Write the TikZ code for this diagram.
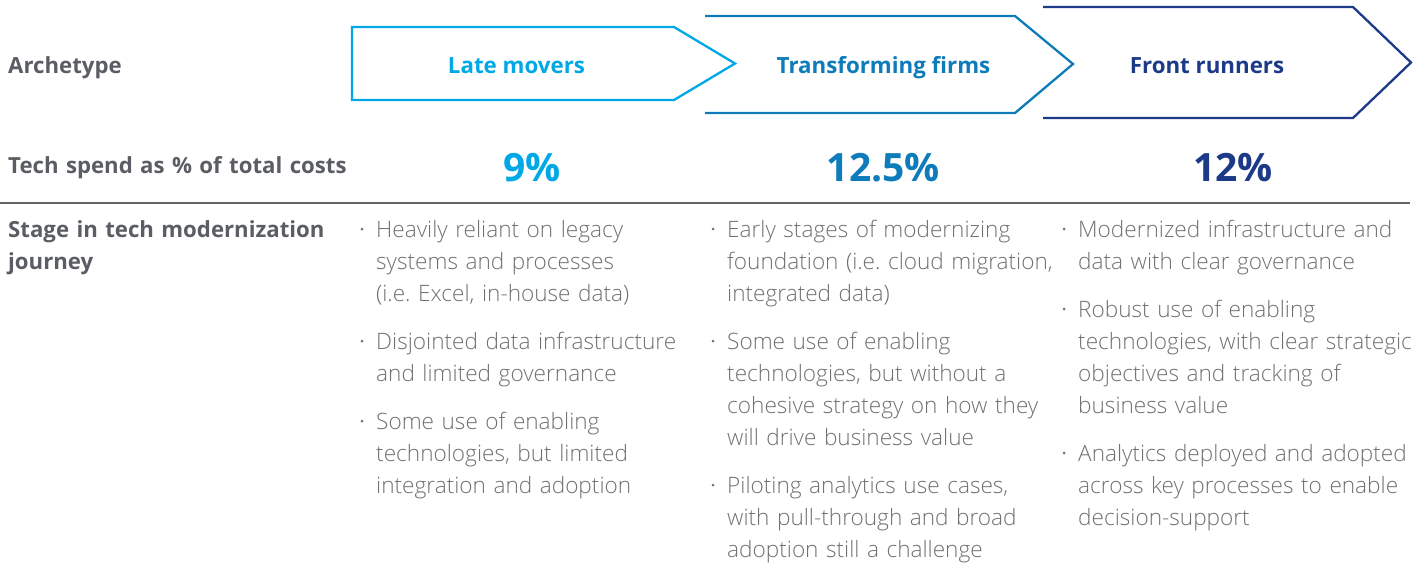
\documentclass[tikz,border=0pt]{standalone}
\usepackage{fontspec}
\setmainfont{Open Sans}
\IfFontExistsTF{Open Sans Light}{\newfontfamily\lightfont{Open Sans Light}}{\newfontfamily\lightfont{Open Sans}}
\frenchspacing
\definecolor{labelgray}{RGB}{90,93,99}
\definecolor{bodygray}{RGB}{112,112,115}
\definecolor{rulegray}{RGB}{100,100,104}
\definecolor{cA}{RGB}{0,168,230}
\definecolor{cB}{RGB}{14,124,186}
\definecolor{cC}{RGB}{28,58,136}
\tikzset{
  lbl/.style={anchor=base west, font=\fontsize{22.2}{32}\selectfont\bfseries\frenchspacing, text=labelgray, inner sep=0pt, text width=345pt, align=left},
  hdr/.style={anchor=base, font=\fontsize{22.3}{26}\selectfont\bfseries, inner sep=0pt},
  pct/.style={anchor=base, font=\fontsize{39}{40}\selectfont\bfseries, inner sep=0pt},
  item/.style={anchor=base west, font=\lightfont\fontsize{22.6}{32}\selectfont\frenchspacing, text=bodygray, inner sep=0pt, text width=360pt, align=left},
  bul/.style={circle, fill=bodygray, inner sep=0pt, minimum size=3pt},
  chev/.style={line width=2.3pt, line join=miter},
}
\begin{document}
\begin{tikzpicture}[x=1pt,y=-1pt]
\useasboundingbox (0,0) rectangle (1424,566);
% chevrons
\draw[chev, cA] (352,27) -- (674,27) -- (735,63.5) -- (674,100) -- (352,100) -- cycle;
\draw[chev, cB] (705,16) -- (1015,16) -- (1073,64) -- (1015,113) -- (705,113);
\draw[chev, cC] (1043,7) -- (1353,7) -- (1411,62.5) -- (1353,118) -- (1043,118);
% separator
\draw[rulegray, line width=1.4pt] (0,203) -- (1410,203);
% row labels
\node[lbl] (l1) at (8,73) {Archetype};
\node[lbl] (l2) at (8,173) {Tech spend as \% of total costs};
\node[lbl] (l3) at (8,237) {Stage in tech modernization\\journey};
% headers
\node[hdr, text=cA] (h1) at (516.5,73) {Late movers};
\node[hdr, text=cB] (h2) at (883.5,73) {Transforming firms};
\node[hdr, text=cC] (h3) at (1207,73) {Front runners};
% percentages
\node[pct, text=cA] (p1) at (532,181) {9\%};
\node[pct, text=cB] (p2) at (883.5,181) {12.5\%};
\node[pct, text=cC] (p3) at (1233,181) {12\%};
% column 1
\node[bul] (b11) at (362,229) {};
\node[item] (t11) at (376,237) {Heavily reliant on legacy\\systems and processes\\(i.e. Excel, in-house data)};
\node[bul] (b12) at (362,341) {};
\node[item] (t12) at (376,349) {Disjointed data infrastructure\\and limited governance};
\node[bul] (b13) at (362,421) {};
\node[item] (t13) at (376,429) {Some use of enabling\\technologies, but limited\\integration and adoption};
% column 2
\node[bul] (b21) at (713,229) {};
\node[item] (t21) at (727,237) {Early stages of modernizing\\foundation (i.e. cloud migration,\\integrated data)};
\node[bul] (b22) at (713,341) {};
\node[item] (t22) at (727,349) {Some use of enabling\\technologies, but without a\\cohesive strategy on how they\\will drive business value};
\node[bul] (b23) at (713,485) {};
\node[item] (t23) at (727,493) {Piloting analytics use cases,\\with pull-through and broad\\adoption still a challenge};
% column 3
\node[bul] (b31) at (1064,229) {};
\node[item] (t31) at (1078,237) {Modernized infrastructure and\\data with clear governance};
\node[bul] (b32) at (1064,309) {};
\node[item] (t32) at (1078,317) {Robust use of enabling\\technologies, with clear strategic\\objectives and tracking of\\business value};
\node[bul] (b33) at (1064,453) {};
\node[item] (t33) at (1078,461) {Analytics deployed and adopted\\across key processes to enable\\decision-support};
\end{tikzpicture}
\end{document}
